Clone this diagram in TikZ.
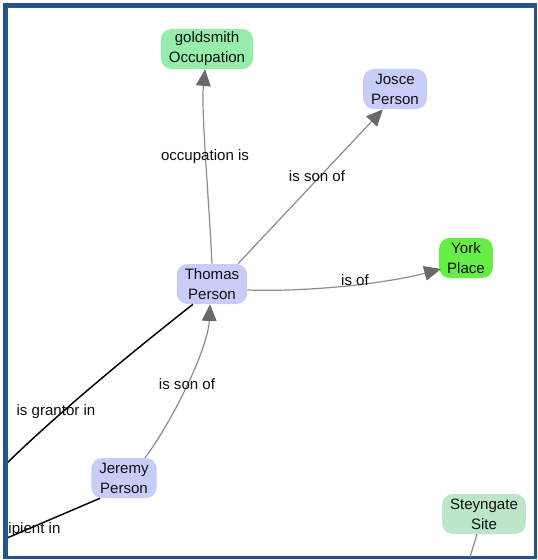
\documentclass[tikz,border=0pt]{standalone}
\usepackage{fontspec}
\setmainfont{Liberation Sans}
\usetikzlibrary{arrows.meta,calc}
\definecolor{frameblue}{RGB}{36,82,140}
\definecolor{personfill}{RGB}{200,204,248}
\definecolor{occfill}{RGB}{150,236,170}
\definecolor{placefill}{RGB}{102,238,68}
\definecolor{sitefill}{RGB}{188,230,200}
\definecolor{edgegray}{RGB}{140,140,140}
\definecolor{tipgray}{RGB}{105,105,105}
\definecolor{inktext}{RGB}{15,15,15}

\begin{document}
\begin{tikzpicture}[x=0.75pt,y=-0.75pt,
  entity/.style={rounded corners=8pt, align=center, text=inktext,
    font=\fontsize{11.3}{15}\selectfont, inner xsep=6pt, inner ysep=2pt,
    minimum height=30pt},
  person/.style={entity, fill=personfill},
  occupation/.style={entity, fill=occfill},
  place/.style={entity, fill=placefill},
  site/.style={entity, fill=sitefill},
  link/.style={draw=edgegray, line width=0.9pt,
    -{Triangle[length=12.5pt,width=11pt,color=tipgray]}},
  plainlink/.style={draw=black, line width=1.1pt},
  sitelink/.style={draw=edgegray, line width=0.9pt},
  lbl/.style={font=\fontsize{11.3}{13}\selectfont, text=inktext, inner sep=0pt}
]
\useasboundingbox (0,0) rectangle (538,560);

% window frame
\fill[frameblue] (3,3) rectangle (537,559);
\fill[white] (8,8) rectangle (534,556);

% nodes
\node[occupation] (gold) at (207,49) {goldsmith\\Occupation};
\node[person] (josce) at (395,89) {Josce\\Person};
\node[person] (thomas) at (212,284) {Thomas\\Person};
\node[place] (york) at (466,258) {York\\Place};
\node[person] (jeremy) at (124,478) {Jeremy\\Person};
\node[site] (steyn) at (484,514) {Steyngate\\Site};

% loose ends running out of the window
\coordinate (grantend) at (0,470);
\coordinate (recipend) at (0,541);
\coordinate (siteend) at (466,570);

\begin{scope}
\clip (8,8) rectangle (534,556);
\draw[link] (thomas.north) .. controls (209,200) and (201,110) .. ($(gold.south)+(-2,0)$);
\draw[link] ($(thomas.north)+(26,0)$) -- ($(josce.south)+(-12,0)$);
\draw[link] ($(thomas.east)+(0,6)$) .. controls (300,292) and (380,285) .. ($(york.west)+(2,11)$);
\draw[link] ($(jeremy.north)+(21,0)$) .. controls (170,425) and (208,350) .. ($(thomas.south)+(-2,0)$);
\draw[plainlink] ($(thomas.south)+(-19,0)$) .. controls (150,338) and (60,410) .. (grantend);
\draw[plainlink] ($(jeremy.south)+(-24,0)$) -- (recipend);
\draw[sitelink] ($(steyn.south)+(-7,0)$) -- (siteend);

% edge labels
\node[lbl] (l1) at (205,157) {occupation is};
\node[lbl] (l2) at (317,176) {is son of};
\node[lbl] (l3) at (355,280) {is of};
\node[lbl] (l4) at (187,384) {is son of};
\node[lbl] (l5) at (56,412) {is grantor in};
\node[lbl] (l6) at (24,530) {recipient in};
\end{scope}
\end{tikzpicture}
\end{document}
